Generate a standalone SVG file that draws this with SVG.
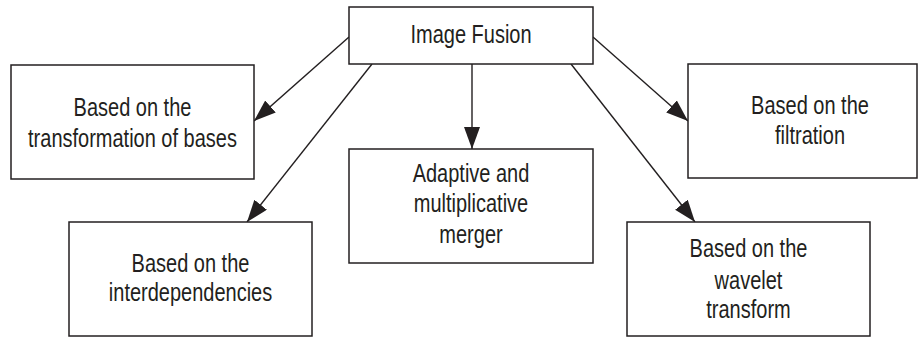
<svg xmlns="http://www.w3.org/2000/svg" width="919" height="338" viewBox="0 0 919 338">
<style>
.box{fill:#fff;stroke:#231f20;stroke-width:1.5}
.lbl{font-family:"Liberation Sans",Arial,sans-serif;font-size:25px;fill:#231f20;text-anchor:middle}
.conn{stroke:#231f20;stroke-width:1.4;fill:none;marker-end:url(#ah)}
</style>
<defs>
<marker id="ah" markerUnits="userSpaceOnUse" markerWidth="23" markerHeight="17" refX="22" refY="8" orient="auto">
<path d="M0,0 L22,8 L0,16 z" fill="#231f20"/>
</marker>
</defs>
<rect width="919" height="338" fill="#fff"/>
<g id="connectors">
<line class="conn" x1="349" y1="37" x2="254" y2="121"/>
<line class="conn" x1="372" y1="64" x2="247" y2="222"/>
<line class="conn" x1="472" y1="64" x2="472" y2="149"/>
<line class="conn" x1="571" y1="64" x2="695" y2="222"/>
<line class="conn" x1="593" y1="37" x2="688" y2="121"/>
</g>
<g id="image-fusion">
<rect class="box" x="349" y="7" width="244" height="57"/>
<text class="lbl" transform="translate(471,43) scale(0.8,1)">Image Fusion</text>
</g>
<g id="transformation-of-bases">
<rect class="box" x="11" y="65" width="243" height="114"/>
<text class="lbl" transform="translate(132.5,116) scale(0.8,1)">Based on the</text>
<text class="lbl" transform="translate(132.5,147) scale(0.8,1)">transformation of bases</text>
</g>
<g id="adaptive">
<rect class="box" x="349" y="149" width="244" height="114"/>
<text class="lbl" transform="translate(471,182) scale(0.8,1)">Adaptive and</text>
<text class="lbl" transform="translate(471,212) scale(0.8,1)">multiplicative</text>
<text class="lbl" transform="translate(471,243) scale(0.8,1)">merger</text>
</g>
<g id="filtration">
<rect class="box" x="688" y="64" width="229" height="114"/>
<text class="lbl" transform="translate(810,114) scale(0.8,1)">Based on the</text>
<text class="lbl" transform="translate(810,144) scale(0.8,1)">filtration</text>
</g>
<g id="interdependencies">
<rect class="box" x="69" y="222" width="243" height="114"/>
<text class="lbl" transform="translate(190.5,272) scale(0.8,1)">Based on the</text>
<text class="lbl" transform="translate(190.5,301) scale(0.8,1)">interdependencies</text>
</g>
<g id="wavelet">
<rect class="box" x="627" y="222" width="243" height="114"/>
<text class="lbl" transform="translate(748.5,257) scale(0.8,1)">Based on the</text>
<text class="lbl" transform="translate(748.5,289) scale(0.8,1)">wavelet</text>
<text class="lbl" transform="translate(748.5,318) scale(0.8,1)">transform</text>
</g>
</svg>
